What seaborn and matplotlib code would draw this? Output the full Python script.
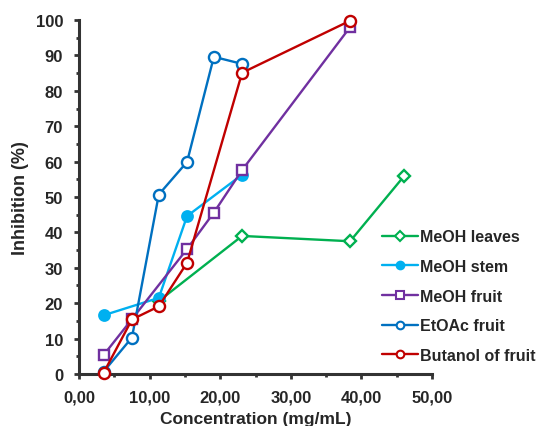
import matplotlib
matplotlib.use("Agg")
import matplotlib.pyplot as plt
import seaborn as sns
import pandas as pd
from matplotlib.ticker import FuncFormatter, MultipleLocator

sns.set_theme(style="white")
plt.rcParams["font.family"] = ["Liberation Sans", "DejaVu Sans"]
plt.rcParams["font.weight"] = "bold"

# data
leaves_x = [11.3, 23.1, 38.4, 46.0]
leaves_y = [20.6, 39.0, 37.5, 55.8]
stem_x = [3.5, 11.3, 15.3, 23.1]
stem_y = [16.6, 21.5, 44.6, 56.3]
fruit_x = [3.5, 7.5, 15.3, 19.1, 23.1, 38.4]
fruit_y = [5.4, 15.5, 35.3, 45.6, 57.6, 98.0]
etoac_x = [3.5, 7.5, 11.3, 15.3, 19.1, 23.1]
etoac_y = [0.7, 10.3, 50.7, 59.9, 89.6, 87.6]
butanol_x = [3.5, 7.5, 11.3, 15.3, 23.1, 38.4]
butanol_y = [0.4, 15.4, 19.1, 31.4, 85.1, 99.8]

series = [
    ("MeOH leaves", leaves_x, leaves_y, "#00B050", "D", "white", 6.5),
    ("MeOH stem", stem_x, stem_y, "#00B0F0", "o", "#00B0F0", 7.5),
    ("MeOH fruit", fruit_x, fruit_y, "#7030A0", "s", "white", 7.5),
    ("EtOAc fruit", etoac_x, etoac_y, "#0070C0", "o", "white", 8),
    ("Butanol of fruit", butanol_x, butanol_y, "#C00000", "o", "white", 8),
]

fig = plt.figure(figsize=(5.39, 4.27), dpi=100)
ax = fig.add_axes([0.1466, 0.1218, 0.6549, 0.829])

for name, xs, ys, col, mk, fc, ms in series:
    df = pd.DataFrame({"x": xs, "y": ys})
    sns.lineplot(data=df, x="x", y="y", ax=ax, color=col, marker=mk,
                 markerfacecolor=fc, markeredgecolor=col, markeredgewidth=1.7,
                 markersize=ms, linewidth=1.7, label=name, clip_on=False,
                 sort=False, zorder=3)

ax.set_xlim(0, 50)
ax.set_ylim(0, 100)
ax.xaxis.set_major_locator(MultipleLocator(10))
ax.xaxis.set_minor_locator(MultipleLocator(5))
ax.yaxis.set_major_locator(MultipleLocator(10))
ax.yaxis.set_minor_locator(MultipleLocator(5))
ax.xaxis.set_major_formatter(FuncFormatter(lambda v, p: f"{v:.2f}".replace(".", ",")))

for s in ["top", "right"]:
    ax.spines[s].set_visible(False)
for s in ["left", "bottom"]:
    ax.spines[s].set_color("#333333")
    ax.spines[s].set_linewidth(2.2)

ax.tick_params(which="major", direction="out", length=3.5, width=2, color="#333333",
               labelsize=12, left=True, bottom=True, pad=8)
ax.tick_params(which="minor", direction="out", length=2.5, width=2, color="#333333",
               left=True, bottom=True)
for lbl in ax.get_xticklabels() + ax.get_yticklabels():
    lbl.set_fontweight("bold")

ax.set_xlabel("Concentration (mg/mL)", fontsize=12.5, fontweight="bold", labelpad=4)
ax.set_ylabel("Inhibition (%)", fontsize=13, fontweight="bold", labelpad=5)

leg = ax.legend(loc="upper left", bbox_to_anchor=(0.709, 0.461),
                bbox_transform=fig.transFigure, frameon=False,
                prop={"size": 11.5, "weight": "bold"}, handlelength=2.25,
                handletextpad=0.15, labelspacing=0.92, borderpad=0,
                borderaxespad=0)
for h in leg.legend_handles:
    h.set_markersize(5.5)
    h.set_markeredgewidth(1.5)

fig.savefig("out.png", dpi=100)
